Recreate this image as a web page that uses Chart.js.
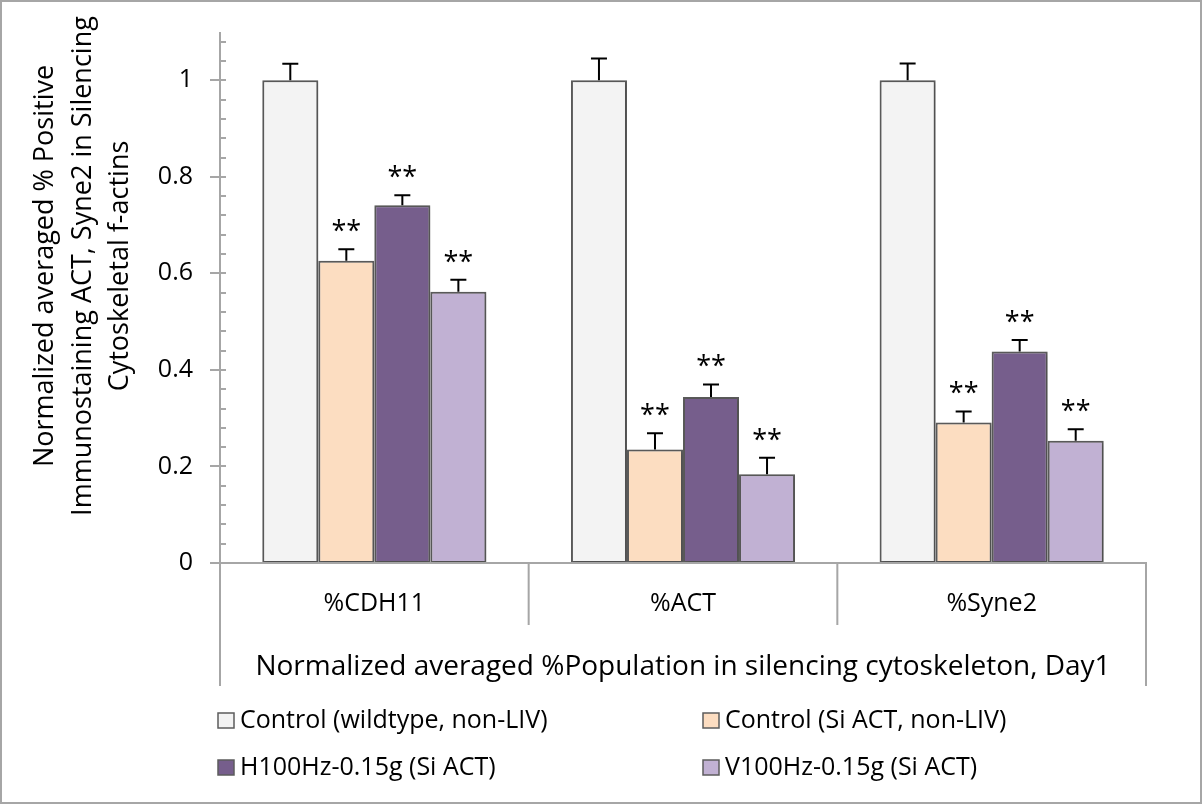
<!DOCTYPE html>
<html>
<head>
<meta charset="utf-8">
<script src="https://cdn.jsdelivr.net/npm/chart.js"></script>
<style>
  html, body { margin: 0; padding: 0; background: #fff; }
</style>
</head>
<body>
<canvas id="silencing" width="1202" height="804"></canvas>
<script>
// categories along the x axis
var categories = ['%CDH11', '%ACT', '%Syne2'];

// series
var seriesNames = ['Control (wildtype, non-LIV)', 'Control (Si ACT, non-LIV)', 'H100Hz-0.15g (Si ACT)', 'V100Hz-0.15g (Si ACT)'];
var controlWt = [1.0, 1.0, 1.0];
var controlSi = [0.626, 0.235, 0.291];
var h100 = [0.741, 0.344, 0.438];
var v100 = [0.562, 0.184, 0.253];

// error bars (upper only)
var errWt = [0.034, 0.045, 0.035];
var errSi = [0.024, 0.034, 0.023];
var errH = [0.021, 0.026, 0.024];
var errV = [0.025, 0.034, 0.024];

// significance marks
var marksWt = ['', '', ''];
var marksSi = ['**', '**', '**'];
var marksH = ['**', '**', '**'];
var marksV = ['**', '**', '**'];

// y axis
var yMin = 0, yMax = 1.1, yMajor = 0.2, yMinor = 0.04;
var yTitle = ['Normalized averaged % Positive', 'Immunostaining ACT, Syne2 in Silencing', 'Cytoskeletal f-actins'];
var xTitle = 'Normalized averaged %Population in silencing cytoskeleton, Day1';

var colors = ['#f3f3f3', '#fcddc1', '#765e8c', '#c1b1d3'];
var edge = '#5c5c5c';
var axisGray = '#a6a6a6';
var FONT = "'Open Sans', sans-serif";

Chart.defaults.font.family = FONT;
Chart.defaults.color = '#000';

var values = [controlWt, controlSi, h100, v100];
var errors = [errWt, errSi, errH, errV];
var marks = [marksWt, marksSi, marksH, marksV];

var datasets = values.map(function (v, i) {
  return {
    label: seriesNames[i],
    data: v,
    err: errors[i],
    marks: marks[i],
    backgroundColor: colors[i],
    borderColor: edge,
    borderWidth: 2,
    borderSkipped: false,
    categoryPercentage: 0.726,
    barPercentage: 1.0
  };
});

var extras = {
  id: 'extras',
  beforeDraw: function (chart) {
    var ctx = chart.ctx;
    ctx.save();
    ctx.fillStyle = '#fff';
    ctx.fillRect(0, 0, chart.width, chart.height);
    ctx.strokeStyle = axisGray;
    ctx.lineWidth = 2;
    ctx.strokeRect(1, 1, chart.width - 2, chart.height - 2);
    ctx.restore();
  },
  beforeDatasetDraw: function (chart) {
    var ctx = chart.ctx;
    ctx.save();
    ctx.shadowColor = 'rgba(0,0,0,0.22)';
    ctx.shadowBlur = 4;
    ctx.shadowOffsetX = 1;
    ctx.shadowOffsetY = 1;
  },
  afterDatasetDraw: function (chart) {
    chart.ctx.restore();
  },
  afterDatasetsDraw: function (chart) {
    var ctx = chart.ctx, ys = chart.scales.y, xs = chart.scales.x, area = chart.chartArea;
    ctx.save();

    // error bars + stars
    chart.data.datasets.forEach(function (ds, d) {
      var meta = chart.getDatasetMeta(d);
      meta.data.forEach(function (bar, j) {
        var top = ys.getPixelForValue(ds.data[j] + ds.err[j]);
        ctx.strokeStyle = '#000';
        ctx.lineWidth = 2;
        ctx.beginPath();
        ctx.moveTo(bar.x, bar.y);
        ctx.lineTo(bar.x, top);
        ctx.moveTo(bar.x - 8, top);
        ctx.lineTo(bar.x + 8, top);
        ctx.stroke();
        if (ds.marks[j]) {
          ctx.fillStyle = '#000';
          ctx.font = '27px ' + FONT;
          ctx.textAlign = 'center';
          ctx.textBaseline = 'alphabetic';
          ctx.fillText(ds.marks[j], bar.x, top - 9);
        }
      });
    });

    // axes
    ctx.strokeStyle = axisGray;
    ctx.lineWidth = 2;
    var bottom = ys.getPixelForValue(0);
    ctx.beginPath();
    ctx.moveTo(area.left, ys.getPixelForValue(yMax));
    ctx.lineTo(area.left, bottom + 123);
    ctx.moveTo(area.left - 10, bottom);
    ctx.lineTo(area.right, bottom);
    ctx.lineTo(area.right, bottom + 123);
    var v;
    for (v = yMin; v <= yMax + 1e-9; v += yMinor) {
      var py = Math.round(ys.getPixelForValue(v));
      ctx.moveTo(area.left, py);
      ctx.lineTo(area.left + 6, py);
    }
    for (v = yMin; v <= yMax + 1e-9; v += yMajor) {
      var pm = Math.round(ys.getPixelForValue(v));
      ctx.moveTo(area.left - 10, pm);
      ctx.lineTo(area.left + 6, pm);
    }
    for (var k = 0; k < categories.length - 1; k++) {
      var bx = (xs.getPixelForValue(k) + xs.getPixelForValue(k + 1)) / 2;
      ctx.moveTo(bx, bottom);
      ctx.lineTo(bx, bottom + 62);
    }
    ctx.stroke();
    ctx.restore();
  },
  afterDraw: function (chart) {
    var ctx = chart.ctx;
    ctx.save();
    // y title, three lines
    ctx.fillStyle = '#000';
    ctx.font = '27px ' + FONT;
    ctx.textAlign = 'center';
    ctx.textBaseline = 'alphabetic';
    var baseX = [53, 91, 128];
    yTitle.forEach(function (line, i) {
      ctx.save();
      ctx.translate(baseX[i], 266);
      ctx.rotate(-Math.PI / 2);
      ctx.fillText(line, 0, 0);
      ctx.restore();
    });

    // legend, 2 x 2
    var cols = [218, 703], rows = [721, 768];
    ctx.font = '25px ' + FONT;
    ctx.textAlign = 'left';
    ctx.textBaseline = 'middle';
    chart.data.datasets.forEach(function (ds, i) {
      var lx = cols[i % 2], ly = rows[Math.floor(i / 2)];
      ctx.fillStyle = ds.backgroundColor;
      ctx.fillRect(lx, ly - 8, 16, 15);
      ctx.strokeStyle = edge;
      ctx.lineWidth = 1.5;
      ctx.strokeRect(lx, ly - 8, 16, 15);
      ctx.fillStyle = '#000';
      ctx.fillText(ds.label, lx + 22, ly);
    });
    ctx.restore();
  }
};

new Chart('silencing', {
  type: 'bar',
  data: { labels: categories, datasets: datasets },
  plugins: [extras],
  options: {
    responsive: false,
    animation: false,
    layout: { padding: { left: 0, right: 56, top: 32, bottom: 0 } },
    plugins: {
      legend: { display: false },
      tooltip: { enabled: false }
    },
    scales: {
      x: {
        grid: { display: false, drawTicks: false },
        border: { display: false },
        ticks: { font: { size: 25 }, padding: 26 },
        title: {
          display: true,
          text: xTitle,
          font: { size: 28 },
          padding: { top: 0, bottom: 120 }
        },
        afterFit: function (scale) { scale.height = 241; scale.paddingLeft = 0; scale.paddingRight = 0; }
      },
      y: {
        min: yMin,
        max: yMax,
        grid: { display: false, drawTicks: false },
        border: { display: false },
        ticks: {
          stepSize: yMajor,
          includeBounds: false,
          font: { size: 25 },
          padding: 27,
          callback: function (value) { return String(Math.round(value * 10) / 10); }
        },
        afterFit: function (scale) { scale.width = 220; scale.paddingTop = 0; scale.paddingBottom = 0; }
      }
    }
  }
});
</script>
</body>
</html>
